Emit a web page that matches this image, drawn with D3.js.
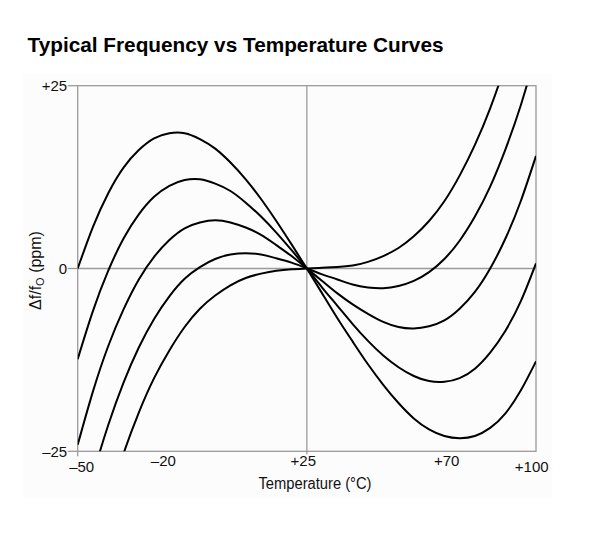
<!DOCTYPE html>
<html>
<head>
<meta charset="utf-8">
<script src="https://cdn.jsdelivr.net/npm/d3@7"></script>
<style>
  body { margin: 0; background: #fff; }
  svg { display: block; font-family: "Liberation Sans", Arial, sans-serif; }
</style>
</head>
<body>
<svg id="chartSVG" width="595" height="549"></svg>
<script>
// temperatures (°C) the curves were read at
var temps = [-50,-45,-40,-35,-30,-25,-20,-15,-10,-5,0,5,10,15,20,25,30,35,40,45,50,55,60,65,70,75,80,85,90,95,100];

// df/f0 (ppm), one list per curve (top-left curve first)
var curveA = [0.0,5.7,10.3,13.8,16.2,17.8,18.5,18.5,17.7,16.4,14.5,12.2,9.5,6.5,3.3,0,-3.4,-6.8,-10.0,-13.1,-15.9,-18.4,-20.5,-22.0,-22.9,-23.2,-22.9,-21.8,-19.8,-16.7,-12.7];
var curveB = [-12.4,-5.8,-0.3,4.1,7.4,9.8,11.3,12.1,12.2,11.6,10.6,9.0,7.1,4.9,2.5,0,-2.6,-5.1,-7.6,-9.9,-11.9,-13.5,-14.7,-15.4,-15.5,-15.0,-13.7,-11.5,-8.5,-4.5,0.7];
var curveC = [-24.1,-16.8,-10.6,-5.6,-1.5,1.6,3.9,5.5,6.3,6.6,6.3,5.6,4.6,3.2,1.7,0,-1.7,-3.4,-4.9,-6.2,-7.3,-8.0,-8.2,-7.9,-7.1,-5.5,-3.2,0.0,4.1,9.2,15.4];
var curveD = [-36.3,-28.3,-21.4,-15.6,-10.8,-6.9,-3.8,-1.4,0.2,1.3,1.9,2.1,1.9,1.4,0.8,0,-0.8,-1.5,-2.2,-2.6,-2.7,-2.4,-1.7,-0.5,1.3,3.8,7.1,11.2,16.3,22.3,29.4];
var curveE = [-48.0,-39.5,-31.9,-25.3,-19.7,-15.0,-11.2,-8.0,-5.5,-3.7,-2.3,-1.3,-0.7,-0.3,-0.1,0,0.1,0.2,0.4,0.9,1.7,2.8,4.4,6.5,9.2,12.7,16.9,21.9,27.9,34.9,43.0];

var xTicks = [-50, -20, 25, 70, 100];
var xTickLabels = ['\u201350', '\u201320', '+25', '+70', '+100'];
var yTicks = [25, 0, -25];
var yTickLabels = ['+25', '0', '\u201325'];
var gridX = [25];
var gridY = [0];

var chartTitle = 'Typical Frequency vs Temperature Curves';
var xTitle = 'Temperature (\u00B0C)';

var plot = { left: 77.7, right: 536, top: 85.7, bottom: 451.3 };
var frameColor = '#9a9a9a';

function drawChart()
{
    var svg = d3.select('#chartSVG');
    svg.selectAll('*').remove();

    var x_scale = d3.scaleLinear().domain([-50, 100]).range([plot.left, plot.right]);
    var y_scale = d3.scaleLinear().domain([-25, 25]).range([plot.bottom, plot.top]);

    // faint panel behind the chart
    svg.append('rect')
        .attr('x', 23).attr('y', 74)
        .attr('width', 529).attr('height', 424)
        .attr('fill', '#fcfcfc');

    svg.append('text')
        .attr('x', 27.5).attr('y', 51.5)
        .attr('font-size', '20.8px')
        .attr('font-weight', 'bold')
        .attr('fill', '#000')
        .attr('textLength', 416)
        .attr('lengthAdjust', 'spacingAndGlyphs')
        .text(chartTitle);

    // grid lines through 0 ppm and +25 °C
    svg.selectAll('.gridx').data(gridX).enter().append('line')
        .attr('x1', d => x_scale(d)).attr('x2', d => x_scale(d))
        .attr('y1', plot.top).attr('y2', plot.bottom + 3)
        .attr('stroke', frameColor).attr('stroke-width', 1.3);
    svg.selectAll('.gridy').data(gridY).enter().append('line')
        .attr('x1', plot.left).attr('x2', plot.right)
        .attr('y1', d => y_scale(d)).attr('y2', d => y_scale(d))
        .attr('stroke', frameColor).attr('stroke-width', 1.3);

    svg.append('rect')
        .attr('x', plot.left).attr('y', plot.top)
        .attr('width', plot.right - plot.left)
        .attr('height', plot.bottom - plot.top)
        .attr('fill', 'none')
        .attr('stroke', frameColor).attr('stroke-width', 1.3);

    // y ticks + labels
    svg.selectAll('.ytick').data(yTicks).enter().append('line')
        .attr('x1', plot.left - 10).attr('x2', plot.left)
        .attr('y1', d => y_scale(d)).attr('y2', d => y_scale(d))
        .attr('stroke', frameColor).attr('stroke-width', 1.3);
    svg.selectAll('.ylab').data(yTicks).enter().append('text')
        .attr('x', plot.left - 10.5)
        .attr('y', d => y_scale(d))
        .attr('dy', '0.36em')
        .attr('text-anchor', 'end')
        .attr('font-size', '15px')
        .attr('fill', '#111')
        .text((d, i) => yTickLabels[i]);

    // x tick at the left corner
    svg.append('line')
        .attr('x1', plot.left).attr('x2', plot.left)
        .attr('y1', plot.bottom).attr('y2', plot.bottom + 5)
        .attr('stroke', frameColor).attr('stroke-width', 1.3);

    // labels at the corners sit a bit lower, the others were nudged by hand
    var nudgeX = { '-50': 4, '-20': -6, '25': -3.5, '70': 2.4, '100': -4.3 };
    svg.selectAll('.xlab').data(xTicks).enter().append('text')
        .attr('x', d => x_scale(d) + nudgeX[d])
        .attr('y', d => (d === -50 || d === 100) ? plot.bottom + 20.5 : plot.bottom + 14.5)
        .attr('text-anchor', 'middle')
        .attr('font-size', '15px')
        .attr('fill', '#111')
        .text((d, i) => xTickLabels[i]);

    svg.append('text')
        .attr('x', 315).attr('y', 488.5)
        .attr('text-anchor', 'middle')
        .attr('font-size', '16px')
        .attr('fill', '#111')
        .attr('textLength', 113)
        .attr('lengthAdjust', 'spacingAndGlyphs')
        .text(xTitle);

    var yt = svg.append('text')
        .attr('transform', 'translate(40.5,' + (y_scale(0) + 2) + ') rotate(-90)')
        .attr('text-anchor', 'middle')
        .attr('font-size', '16px')
        .attr('fill', '#111');
    yt.append('tspan').text('\u0394f/f');
    yt.append('tspan').attr('font-size', '11px').attr('dy', '3').text('O');
    yt.append('tspan').attr('dy', '-3').text(' (ppm)');

    // curves, clipped to the plot box
    svg.append('clipPath').attr('id', 'plotClip')
        .append('rect')
        .attr('x', plot.left).attr('y', plot.top)
        .attr('width', plot.right - plot.left)
        .attr('height', plot.bottom - plot.top);

    var line = d3.line()
        .x((d, i) => x_scale(temps[i]))
        .y(d => y_scale(d))
        .curve(d3.curveNatural);

    var series = [curveA, curveB, curveC, curveD, curveE];
    svg.append('g').attr('clip-path', 'url(#plotClip)')
        .selectAll('path').data(series).enter().append('path')
        .attr('d', line)
        .attr('fill', 'none')
        .attr('stroke', '#000')
        .attr('stroke-width', 2);
}

drawChart();
</script>
</body>
</html>
